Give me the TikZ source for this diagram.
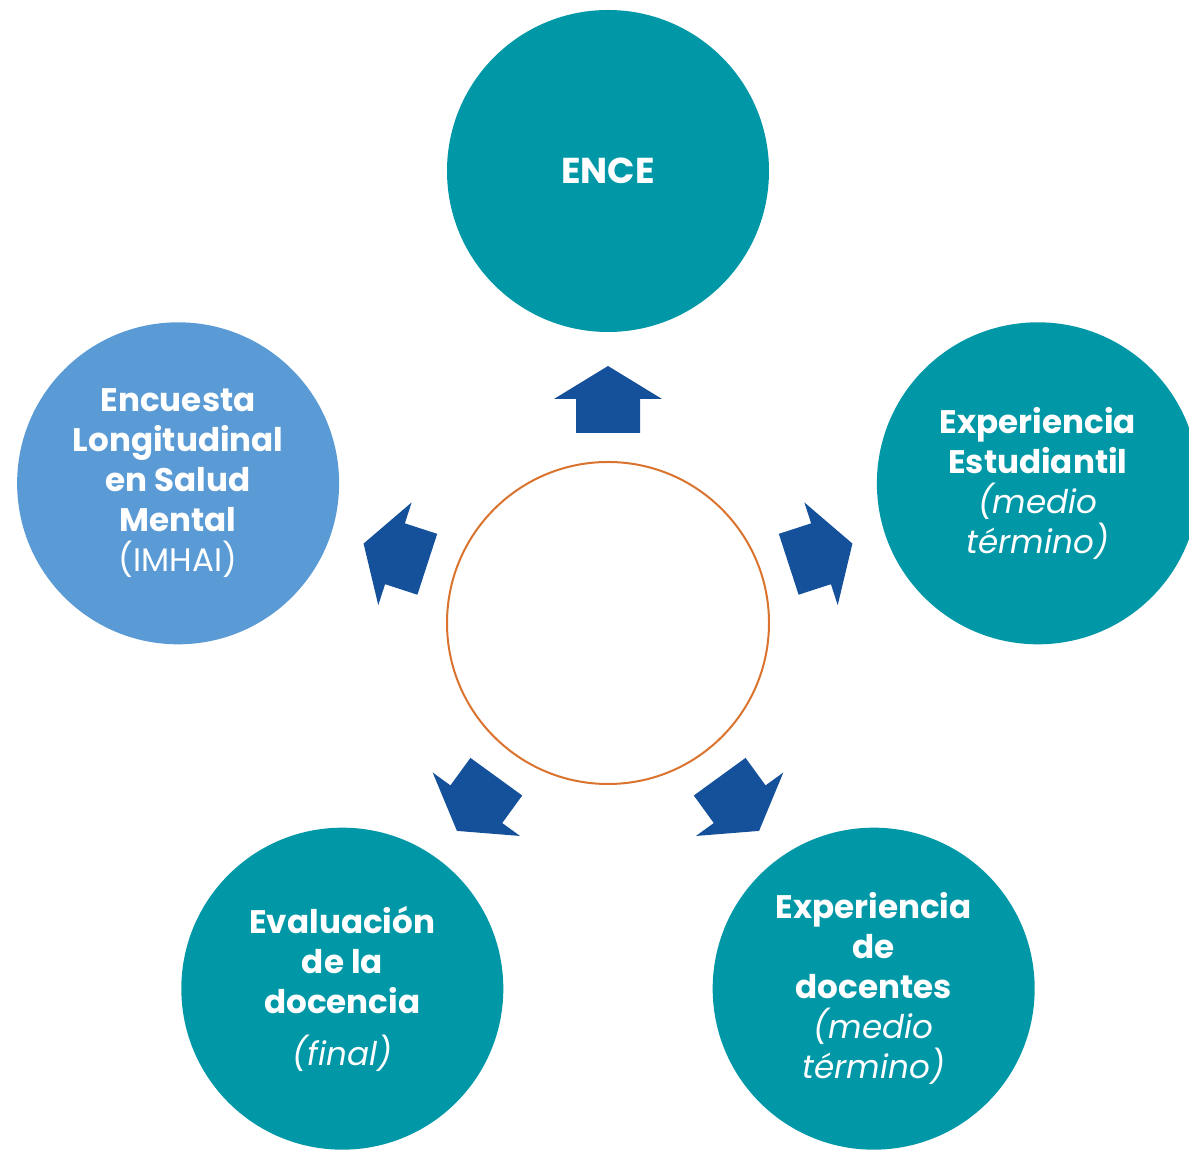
\documentclass[tikz,border=0pt]{standalone}
\usepackage{fontspec}
\setmainfont{Poppins}

\definecolor{tealcirc}{HTML}{0097A7}
\definecolor{bluecirc}{HTML}{5B9BD5}
\definecolor{arrowblue}{HTML}{14519A}
\definecolor{ringorange}{HTML}{D9732E}

\newcommand{\litetxt}[1]{{\normalfont\itshape #1}}

\tikzset{
    stage/.style={circle, fill=tealcirc, minimum size=161pt, inner sep=0pt,
        text=white, align=center, font=\fontsize{16.3}{20}\selectfont\bfseries},
}

\begin{document}
\begin{tikzpicture}[x=0.5pt, y=0.5pt]
    \useasboundingbox (0,0) rectangle (1189,1151);

    % centre ring
    \node[circle, draw=ringorange, line width=1pt, minimum size=161pt, inner sep=0pt] (hub) at (608,528) {};

    % the five surveys
    \node[stage] (ence) at ([shift={(90:452)}]hub.center) {\fontsize{18}{20}\selectfont ENCE};
    \node[stage] (estud) at ([shift={(18:452)}]hub.center) {Experiencia\\Estudiantil\\\litetxt{(medio}\\\litetxt{término)}};
    \node[stage] (docen) at ([shift={(-54:452)}]hub.center) {Experiencia\\de\\docentes\\\litetxt{(medio}\\\litetxt{término)}};
    \node[stage] (evalu) at ([shift={(-126:452)}]hub.center) {Evaluación\\de la\\docencia\\[6pt]\litetxt{(final)}};
    \node[stage, fill=bluecirc] (imhai) at ([shift={(162:452)}]hub.center) {Encuesta\\Longitudinal\\en Salud\\Mental\\{\normalfont (IMHAI)}};

    % block arrows pointing outwards
    \foreach \a in {90, 18, -54, -126, 162} {
        \fill[arrowblue, shift={(hub.center)}, rotate=\a] (190,-32) -- (224,-32) -- (224,-54) -- (257,0) -- (224,54) -- (224,32) -- (190,32) -- cycle;
    }

\end{tikzpicture}
\end{document}
